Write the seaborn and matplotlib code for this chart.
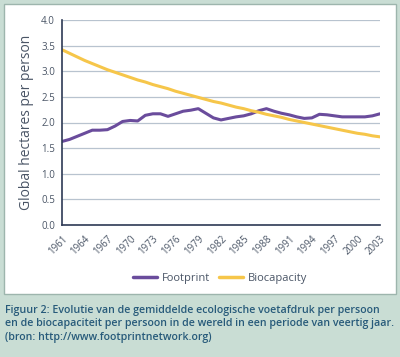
import matplotlib
matplotlib.use('Agg')
import matplotlib.pyplot as plt
import matplotlib.patches as mpatches
from matplotlib.ticker import MultipleLocator
import pandas as pd
import seaborn as sns

years = list(range(1961, 2004))
footprint = [1.63, 1.67, 1.73, 1.79, 1.85, 1.85, 1.86, 1.93, 2.02, 2.04,
             2.03, 2.14, 2.17, 2.17, 2.12, 2.17, 2.22, 2.24, 2.27, 2.18,
             2.09, 2.05, 2.08, 2.11, 2.13, 2.17, 2.23, 2.27, 2.22, 2.18,
             2.15, 2.11, 2.08, 2.09, 2.16, 2.15, 2.13, 2.11, 2.11, 2.11,
             2.11, 2.13, 2.17]
biocapacity = [3.42, 3.35, 3.28, 3.21, 3.15, 3.09, 3.03, 2.98, 2.93, 2.88,
               2.83, 2.79, 2.74, 2.70, 2.66, 2.61, 2.57, 2.53, 2.49, 2.45,
               2.41, 2.38, 2.34, 2.30, 2.27, 2.23, 2.20, 2.16, 2.13, 2.10,
               2.06, 2.03, 2.00, 1.97, 1.94, 1.91, 1.88, 1.85, 1.82, 1.79,
               1.77, 1.74, 1.72]
tick_years = years[::3]
series_names = ['Footprint', 'Biocapacity']
colors = ['#6a4c9c', '#f6c64a']
caption = ("Figuur 2: Evolutie van de gemiddelde ecologische voetafdruk per persoon\n"
           "en de biocapaciteit per persoon in de wereld in een periode van veertig jaar.\n"
           "(bron: http://www.footprintnetwork.org)")

df = pd.DataFrame({'year': years * 2,
                   'value': footprint + biocapacity,
                   'series': [series_names[0]] * len(years) + [series_names[1]] * len(years)})

sns.set_style('white')
plt.rcParams['font.family'] = ['Open Sans', 'DejaVu Sans']
text_col = '#4a5566'

fig = plt.figure(figsize=(4.0, 3.57), dpi=100)
fig.patch.set_facecolor('#c9ddd4')
# white panel behind the chart
fig.patches.append(mpatches.Rectangle((4 / 400, 1 - 294 / 357), 392 / 400, 290 / 357,
                                      transform=fig.transFigure, facecolor='white',
                                      edgecolor='#9db5ad', linewidth=1.0, zorder=0))

ax = fig.add_axes([62 / 400, 1 - 225 / 357, 318 / 400, 205 / 357])
ax.set_zorder(3)
ax.set_facecolor('none')
sns.lineplot(data=df, x='year', y='value', hue='series', palette=colors,
             linewidth=2.2, ax=ax, legend=False)

ax.set_xlim(1961, 2003)
ax.set_ylim(0, 4.0)
ax.yaxis.set_major_locator(MultipleLocator(0.5))
ax.set_xticks(tick_years)
ax.set_xticks(years, minor=True)
ax.yaxis.set_major_formatter(matplotlib.ticker.FormatStrFormatter('%.1f'))
ax.grid(axis='y', color='#b8c3cf', linewidth=0.9)
ax.set_axisbelow(True)
for s in ['top', 'right']:
    ax.spines[s].set_visible(False)
for s in ['left', 'bottom']:
    ax.spines[s].set_color('#2e3a55')
    ax.spines[s].set_linewidth(1.2)
ax.tick_params(axis='x', which='both', direction='out', color='#2e3a55', labelsize=7,
               labelcolor=text_col, rotation=45, pad=2)
ax.tick_params(axis='x', which='major', length=4, width=0.8)
ax.tick_params(axis='x', which='minor', length=3, width=0.6)
ax.tick_params(axis='y', direction='out', length=3, width=0.8, color='#2e3a55',
               labelsize=7, labelcolor=text_col, pad=2)
for lbl in ax.get_xticklabels():
    lbl.set_ha('right')
    lbl.set_rotation_mode('anchor')
ax.set_xlabel('')
ax.set_ylabel('Global hectares per person', fontsize=10, color=text_col, labelpad=5)

handles = [plt.Line2D([], [], color=c, linewidth=2.5) for c in colors]
leg = fig.legend(handles, series_names, loc='center', bbox_to_anchor=(220 / 400, 1 - 278 / 357),
                 ncol=2, frameon=False, fontsize=8, handlelength=2.2, handletextpad=0.4,
                 columnspacing=0.8, labelcolor=text_col)
leg.set_zorder(4)

fig.text(5 / 400, 1 - 305 / 357, caption, ha='left', va='top', fontsize=7.65,
         color='#275a7a', fontweight='semibold', linespacing=1.3)

fig.savefig('out.png', dpi=100, facecolor=fig.get_facecolor())
